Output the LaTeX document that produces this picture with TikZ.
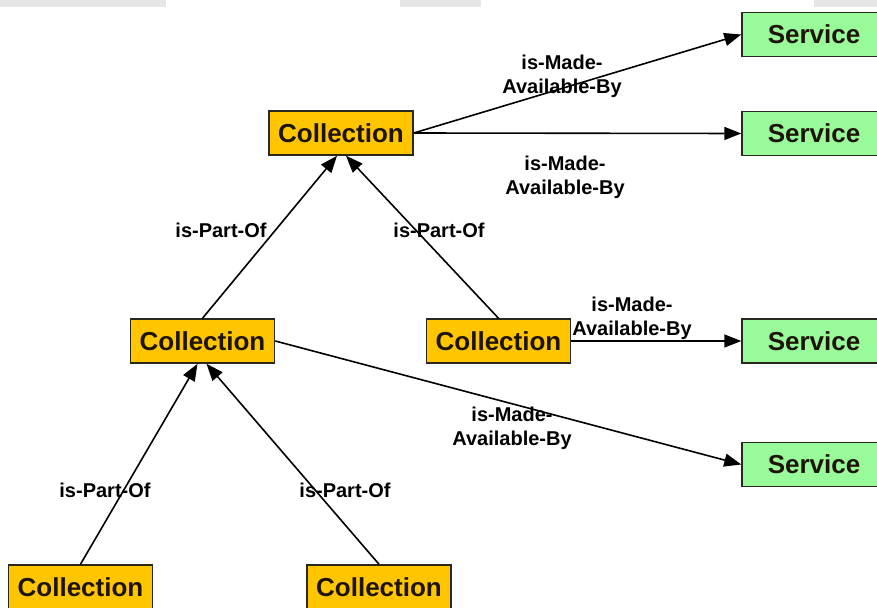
\documentclass[tikz,border=0pt]{standalone}
\usepackage{fontspec}
\setmainfont{Liberation Sans}
\usetikzlibrary{arrows.meta}

\definecolor{collfill}{RGB}{255,198,0}
\definecolor{servfill}{RGB}{152,250,152}
\definecolor{topbar}{RGB}{230,230,230}
\definecolor{boxline}{RGB}{40,40,30}
\definecolor{inktext}{RGB}{30,20,5}

\begin{document}
\begin{tikzpicture}[x=1pt,y=-1pt,
  box/.style={draw=boxline, line width=1.5pt, minimum width=144pt,
    minimum height=44pt, inner sep=0pt, text=inktext,
    font=\fontsize{26}{30}\selectfont\bfseries},
  coll/.style={box, fill=collfill},
  serv/.style={box, fill=servfill},
  rel/.style={line width=1.6pt, -{Triangle[length=17pt,width=13pt]}},
  lbl/.style={font=\fontsize{20}{24}\selectfont\bfseries, align=center,
    inner sep=0pt}]
\useasboundingbox (0,0) rectangle (877,607);
\clip (0,0) rectangle (877,607);

% light strips along the top edge
\fill[topbar] (0,0) rectangle (166,7);
\fill[topbar] (400,0) rectangle (481,7);
\fill[topbar] (814,0) rectangle (877,7);

% collections
\node[coll] (ctop) at (341,133) {Collection};
\node[coll] (cmidl) at (202.5,341) {Collection};
\node[coll] (cmidr) at (498.5,341) {Collection};
\node[coll] (cbotl) at (80.5,587) {Collection};
\node[coll] (cbotr) at (379,587) {Collection};

% services
\node[serv] (s1) at (814,34.5) {Service};
\node[serv] (s2) at (814,133.5) {Service};
\node[serv] (s3) at (814,341) {Service};
\node[serv] (s4) at (814,464.5) {Service};

% is-Part-Of relations
\draw[rel] (cmidl.north) -- ([xshift=-4pt]ctop.south);
\draw[rel] (cmidr.north) -- ([xshift=5pt]ctop.south);
\draw[rel] (cbotl.north) -- ([xshift=-5pt]cmidl.south);
\draw[rel] (cbotr.north) -- ([xshift=4pt]cmidl.south);

% is-Made-Available-By relations
\draw[rel] (ctop.east) -- (s1.west);
\draw[rel] (ctop.east) -- (s2.west);
\draw[rel] (cmidr.east) -- (s3.west);
\draw[rel] (cmidl.east) -- (s4.west);

% labels
\node[lbl] (l1) at (562,76) {is-Made-\\Available-By};
\node[lbl] (l2) at (565,177) {is-Made-\\Available-By};
\node[lbl] (l3) at (632,318) {is-Made-\\Available-By};
\node[lbl] (l4) at (512,428) {is-Made-\\Available-By};
\node[lbl] (p1) at (221,230) {is-Part-Of};
\node[lbl] (p2) at (439,230) {is-Part-Of};
\node[lbl] (p3) at (105,490) {is-Part-Of};
\node[lbl] (p4) at (345,490) {is-Part-Of};
\end{tikzpicture}
\end{document}
